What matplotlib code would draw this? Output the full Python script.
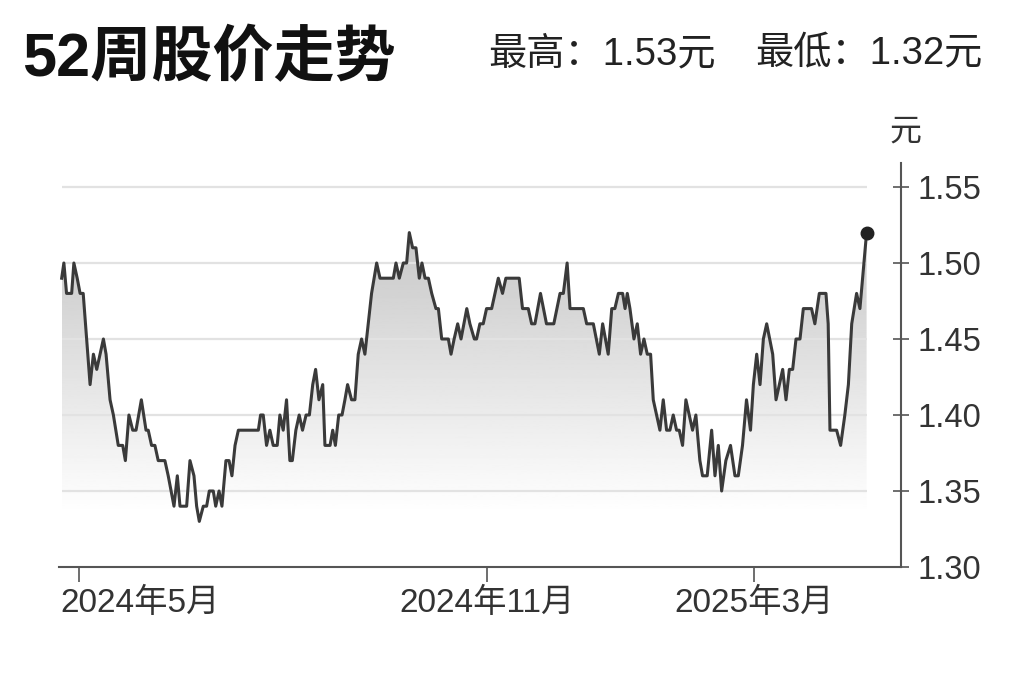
import numpy as np
import matplotlib
matplotlib.use("Agg")
import matplotlib.pyplot as plt
import matplotlib.transforms as mtransforms

plt.rcParams['font.family'] = ['Liberation Sans', 'Noto Sans CJK SC', 'DejaVu Sans']

# days counted from 2024-05-01, closing price in yuan
days = [-7.8, -6.8, -5.6, -3.3, -2.3, -0.8, 0.5, 1.9, 5.0, 6.5, 8.0, 11.0, 12.2, 14.0, 15.5, 17.7, 19.7, 20.9,
        22.5, 24.2, 25.7, 28.1, 30.2, 31.2, 32.7, 34.2, 35.7, 38.7, 40.2, 42.8, 44.3, 45.5, 48.5, 50.0, 51.8, 53.0,
        54.2, 56.0, 57.5, 58.7, 60.5, 61.6, 63.1, 64.4, 66.2, 67.6, 68.9, 70.3, 71.8, 80.8, 81.8, 83.0, 84.5, 86.0,
        87.5, 89.3, 90.5, 92.0, 93.5, 95.0, 96.1, 97.7, 99.2, 100.7, 102.3, 103.8, 105.3, 106.6, 108.1, 109.8,
        110.8, 113.1, 114.3, 115.5, 117.0, 118.5, 119.8, 121.0,
        122.8, 124.3, 125.8, 127.3, 128.8, 130.3, 131.8, 134.1, 135.6, 141.6, 142.8, 144.3, 146.1, 147.6, 148.8,
        150.3, 151.8, 153.3, 154.5, 155.9, 157.4, 158.9, 160.8, 161.9, 163.4, 166.4, 167.6, 169.0, 170.6, 172.1,
        174.7, 176.1, 178.1, 179.1, 180.6, 182.1, 183.6, 185.9, 188.9, 190.8, 192.3, 198.3, 199.8, 202.4, 203.9,
        205.4, 207.9, 210.6, 213.9, 216.7, 218.2, 219.9, 221.2, 227.2, 228.7, 231.7, 234.4, 235.9, 238.4, 240.0,
        241.4, 243.0, 244.9, 246.0,
        247.0, 248.2, 250.0, 251.5, 253.0, 254.5, 256.0, 257.5, 258.7, 260.2, 261.7, 263.2, 264.7, 266.2, 267.7,
        269.2, 270.4, 271.9, 273.4, 274.9, 276.4, 277.9, 279.7, 280.9, 283.0, 285.0, 286.5, 288.0, 289.5, 291.4,
        293.5, 295.5, 297.0, 298.9, 300.7, 302.5, 303.8, 305.3, 306.8, 308.3, 309.8, 312.5, 314.0, 315.5, 317.0,
        318.5, 320.0, 321.5, 323.0, 324.8, 326.3, 330.0, 331.5, 333.5, 336.5, 337.5, 338.3, 341.3, 343.1, 345.0,
        346.6, 348.1, 350.3, 351.8, 353.0, 354.8]
prices = [1.49, 1.50, 1.48, 1.48, 1.50, 1.49, 1.48, 1.48, 1.42, 1.44, 1.43, 1.45, 1.44, 1.41, 1.40, 1.38, 1.38, 1.37,
          1.40, 1.39, 1.39, 1.41, 1.39, 1.39, 1.38, 1.38, 1.37, 1.37, 1.36, 1.34, 1.36, 1.34, 1.34, 1.37, 1.36, 1.34,
          1.33, 1.34, 1.34, 1.35, 1.35, 1.34, 1.35, 1.34, 1.37, 1.37, 1.36, 1.38, 1.39, 1.39, 1.40, 1.40, 1.38, 1.39,
          1.38, 1.38, 1.40, 1.39, 1.41, 1.37, 1.37, 1.39, 1.40, 1.39, 1.40, 1.40, 1.42, 1.43, 1.41, 1.42,
          1.38, 1.38, 1.39, 1.38, 1.40, 1.40, 1.41, 1.42,
          1.41, 1.41, 1.44, 1.45, 1.44, 1.46, 1.48, 1.50, 1.49, 1.49, 1.50, 1.49, 1.50, 1.50, 1.52,
          1.51, 1.51, 1.49, 1.50, 1.49, 1.49, 1.48, 1.47, 1.47, 1.45, 1.45, 1.44, 1.45, 1.46, 1.45,
          1.47, 1.46, 1.45, 1.45, 1.46, 1.46, 1.47, 1.47, 1.49, 1.48, 1.49, 1.49, 1.47, 1.47, 1.46,
          1.46, 1.48, 1.46, 1.46, 1.48, 1.48, 1.50, 1.47, 1.47, 1.46, 1.46, 1.44, 1.46, 1.44, 1.47,
          1.47, 1.48, 1.48, 1.47,
          1.48, 1.47, 1.45, 1.46, 1.44, 1.45, 1.44, 1.44, 1.41, 1.40, 1.39, 1.41, 1.39, 1.39, 1.40,
          1.39, 1.39, 1.38, 1.41, 1.40, 1.39, 1.40, 1.37, 1.36, 1.36, 1.39, 1.36, 1.38, 1.35, 1.37,
          1.38, 1.36, 1.36, 1.38, 1.41, 1.39, 1.42, 1.44, 1.42, 1.45, 1.46, 1.44, 1.41, 1.42, 1.43,
          1.41, 1.43, 1.43, 1.45, 1.45, 1.47, 1.47, 1.46, 1.48, 1.48, 1.46, 1.39, 1.39, 1.38, 1.40,
          1.42, 1.46, 1.48, 1.47, 1.49, 1.52]

tick_dates = ['2024-05-01', '2024-11-01', '2025-03-01']
tick_labels = ['2024年5月', '2024年11月', '2025年3月']
yticks = [1.30, 1.35, 1.40, 1.45, 1.50, 1.55]
title = '52周股价走势'
high_txt = '最高：1.53元'
low_txt = '最低：1.32元'

days = np.array(days)
prices = np.array(prices)
origin = np.datetime64('2024-05-01')
tick_pos = [(np.datetime64(d) - origin).astype(int) for d in tick_dates]

fig = plt.figure(figsize=(10.24, 6.82), dpi=100)
ax = fig.add_axes([59 / 1024, 1 - 567 / 682, 842 / 1024, 404 / 682])

# grey gradient under the line
poly = ax.fill_between(days, prices, 1.30, facecolor='none', edgecolor='none')
ys = np.linspace(1.30, prices.max(), 256)
shade = np.clip(1 - 0.22 * (ys - 1.335) / (1.52 - 1.335), 0.78, 1.0)
img = ax.imshow(shade[:, None], cmap='gray', vmin=0, vmax=1, aspect='auto', origin='lower',
                extent=[days[0], days[-1], 1.30, prices.max()], zorder=1)
img.set_clip_path(poly.get_paths()[0], transform=ax.transData)

ax.hlines(yticks[1:], days[0], days[-1], color='#e2e2e2', lw=1.6, zorder=2)
ax.plot(days, prices, color='#3a3a3a', lw=2.2, zorder=3)
ax.plot(days[-1], prices[-1], 'o', color='#222222', ms=9, zorder=4)

ax.set_xlim(-9.0, 370.3)
ax.set_ylim(1.30, 1.30 + 404 / 1520)

for s in ['left', 'top']:
    ax.spines[s].set_visible(False)
for s in ['bottom', 'right']:
    ax.spines[s].set_color('#555555')
    ax.spines[s].set_linewidth(1.5)

ax.yaxis.tick_right()
ax.set_yticks(yticks)
ax.set_yticklabels([f'{v:.2f}' for v in yticks])
ax.tick_params(axis='y', direction='inout', length=12, width=1.2, color='#555555',
               labelsize=23.5, labelcolor='#333333', pad=6)
ax.set_xticks(tick_pos)
ax.set_xticklabels(tick_labels)
ax.tick_params(axis='x', direction='out', length=11, width=1.2, color='#555555',
               labelsize=24, labelcolor='#333333', pad=4)
first = ax.get_xticklabels()[0]
first.set_ha('left')
first.set_transform(first.get_transform() + mtransforms.ScaledTranslation(-0.19, 0, fig.dpi_scale_trans))

fig.text(905 / 1024, 1 - 133 / 682, '元', ha='center', va='center', fontsize=23, color='#333333')
fig.text(22 / 1024, 1 - 76 / 682, title, ha='left', va='baseline', fontsize=44,
         fontweight='bold', color='#111111')
fig.text(488 / 1024, 1 - 64 / 682, high_txt, ha='left', va='baseline', fontsize=27.5, color='#222222')
fig.text(755 / 1024, 1 - 64 / 682, low_txt, ha='left', va='baseline', fontsize=27.5, color='#222222')

fig.savefig('out.png', dpi=100, facecolor='white')
